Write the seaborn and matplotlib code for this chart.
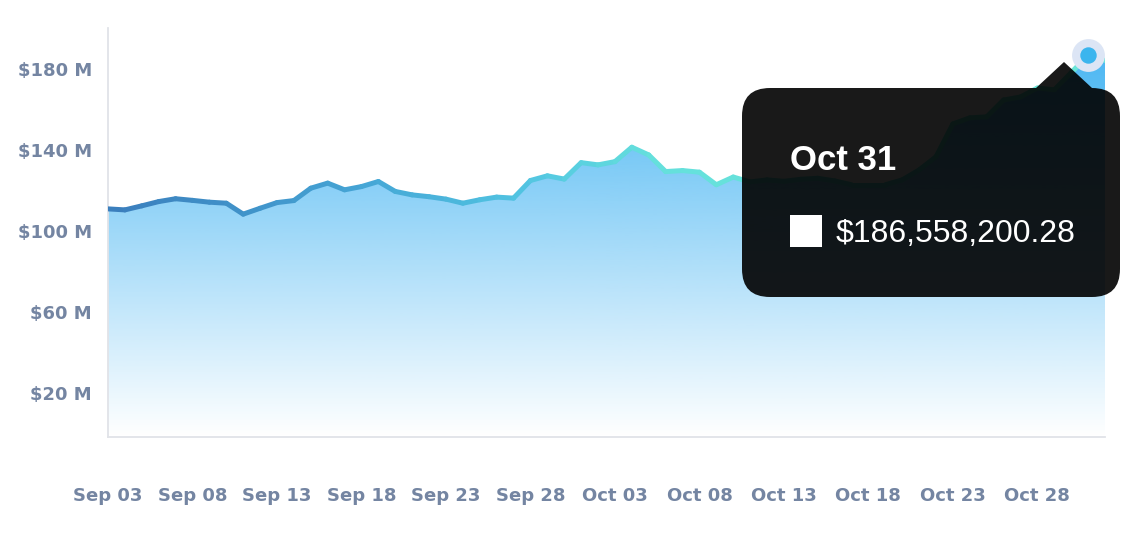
import matplotlib
matplotlib.use('Agg')
import numpy as np
import pandas as pd
import seaborn as sns
import matplotlib.pyplot as plt
import matplotlib.dates as mdates
from matplotlib.colors import LinearSegmentedColormap, to_rgb
from matplotlib.patches import FancyBboxPatch, Polygon, Rectangle
from matplotlib.transforms import IdentityTransform

# daily value, $M, Sep 03 -> Nov 01
dates = pd.date_range('2023-09-03', '2023-11-01', freq='D')
volume_musd = [
    110.8, 110.3, 112.3, 114.4, 115.8, 115.0, 114.1, 113.6, 108.2, 111.1,
    113.9, 114.9, 121.0, 123.5, 120.2, 121.8, 124.3, 119.4, 117.7, 116.8,
    115.6, 113.6, 115.3, 116.6, 116.1, 124.8, 127.1, 125.5, 133.6, 132.5,
    134.1, 141.2, 137.4, 129.2, 129.7, 128.9, 122.7, 126.5, 124.1, 125.1,
    124.4, 125.4, 125.9, 124.6, 122.7, 122.7, 122.7, 125.1, 130.0, 136.5,
    152.7, 155.7, 156.2, 164.5, 166.0, 170.4, 169.5, 178.0, 186.558, 184.0,
]
y_ticks = [20, 60, 100, 140, 180]
y_tick_labels = ['$20 M', '$60 M', '$100 M', '$140 M', '$180 M']
x_ticks = pd.date_range('2023-09-03', '2023-10-28', freq='5D')
hover_date = pd.Timestamp('2023-10-31')
hover_title = 'Oct 31'
hover_value = '$186,558,200.28'

W, H = 1124, 560
df = pd.DataFrame({'date': dates, 'value': volume_musd})

sns.set_style('white')
fig, ax = plt.subplots(figsize=(W / 100, H / 100), dpi=100)
fig.subplots_adjust(left=108 / W, right=1105 / W, bottom=1 - 437 / H, top=1 - 28 / H)

ymin, ymax = -1.7, 200
x0, x1 = mdates.date2num(dates[0]), mdates.date2num(dates[-1])

# area with vertical gradient
poly = ax.fill_between(df['date'], df['value'], ymin, color='none', lw=0)
grad = np.zeros((256, 1, 4))
grad[..., :3] = to_rgb('#3fb2f2')
grad[:, 0, 3] = np.linspace(1, 0, 256)
im = ax.imshow(grad, extent=[x0, x1, ymin, ymax], aspect='auto', origin='upper', zorder=1)
im.set_clip_path(poly.get_paths()[0], transform=ax.transData)

# line with horizontal gradient, one short segment per hue level
rows = []
for i in range(len(dates) - 1):
    for j in (i, i + 1):
        rows.append({'date': dates[j], 'value': volume_musd[j], 'seg': f's{i:02d}'})
seg_df = pd.DataFrame(rows)
cmap = LinearSegmentedColormap.from_list('line', [
    (0, '#3b7fbd'), (0.25, '#45a5d5'), (0.42, '#52c5e2'), (0.55, '#65e0dc'), (1, '#6ae6d8')])
n_seg = len(dates) - 1
palette = {f's{i:02d}': cmap(i / (n_seg - 1)) for i in range(n_seg)}
sns.lineplot(data=seg_df, x='date', y='value', hue='seg', palette=palette, legend=False,
             estimator=None, sort=False, lw=3.6, solid_capstyle='round', ax=ax, zorder=3)

# hovered point
hover = df[df['date'] == hover_date]
sns.scatterplot(data=hover, x='date', y='value', s=560, color='#dce5f5', linewidth=0, ax=ax, zorder=5)
sns.scatterplot(data=hover, x='date', y='value', s=140, color='#3bb5ee', linewidth=0, ax=ax, zorder=6)

ax.set_xlim(x0, x1)
ax.set_ylim(ymin, ymax)
ax.set_xticks(x_ticks)
ax.set_xticklabels([d.strftime('%b %d') for d in x_ticks], fontweight='bold', fontsize=13)
ax.set_yticks(y_ticks)
ax.set_yticklabels(y_tick_labels, fontweight='bold', fontsize=13)
ax.tick_params(axis='both', length=0, labelcolor='#7485a2')
ax.tick_params(axis='x', pad=36)
ax.tick_params(axis='y', pad=11.5)
ax.set_xlabel('')
ax.set_ylabel('')
ax.grid(False)
sns.despine(ax=ax)
for side in ('left', 'bottom'):
    ax.spines[side].set_color('#e1e3e8')
    ax.spines[side].set_linewidth(1.3)

# tooltip
px = IdentityTransform()
tip_color = '#000000'
tip_alpha = 0.9
box = FancyBboxPatch((742, H - 297), 1120 - 742, 297 - 88,
                     boxstyle='round,pad=0,rounding_size=28',
                     transform=px, facecolor=tip_color, edgecolor='none', alpha=tip_alpha, zorder=10)
fig.add_artist(box)
caret = Polygon([(1036, H - 88), (1064, H - 62), (1092, H - 88)], closed=True,
                transform=px, facecolor=tip_color, edgecolor='none', alpha=tip_alpha, zorder=10)
fig.add_artist(caret)
fig.add_artist(Rectangle((790, H - 247), 32, 32, transform=px, facecolor='white',
                         edgecolor='none', zorder=11))
fig.text(790 / W, 1 - 170 / H, hover_title, color='white', fontsize=25, fontweight='bold',
         family='Liberation Sans', va='baseline', ha='left', zorder=11)
fig.text(836 / W, 1 - 242 / H, hover_value, color='white', fontsize=23,
         family='Liberation Sans', va='baseline', ha='left', zorder=11)

fig.savefig('out.png', dpi=100)
